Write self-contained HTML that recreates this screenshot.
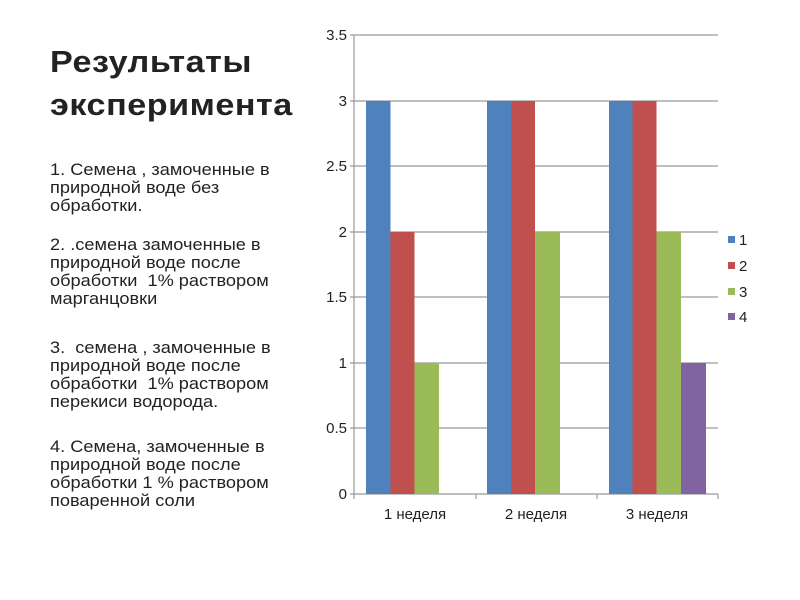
<!DOCTYPE html>
<html><head><meta charset="utf-8"><style>
body{margin:0;width:800px;height:600px;background:#fff;overflow:hidden;position:relative;font-family:"Liberation Sans","DejaVu Sans",sans-serif;color:#222}
.t{position:absolute;left:50px;top:40px;font-weight:bold;font-size:31px;line-height:43px;letter-spacing:0.5px;transform:scaleX(1.1);transform-origin:0 0;white-space:nowrap}
.p{position:absolute;left:50px;font-size:17px;line-height:18px;transform:scaleX(1.07);transform-origin:0 0;white-space:nowrap}
</style></head><body>
<div class="t">Результаты<br>эксперимента</div>
<div class="p" style="top:161px">1. Семена , замоченные в<br>природной воде без<br>обработки.</div>
<div class="p" style="top:236px">2. .семена замоченные в<br>природной воде после<br>обработки&nbsp; 1% раствором<br>марганцовки</div>
<div class="p" style="top:339px">3.&nbsp; семена , замоченные в<br>природной воде после<br>обработки&nbsp; 1% раствором<br>перекиси водорода.</div>
<div class="p" style="top:438px">4. Семена, замоченные в<br>природной воде после<br>обработки 1 % раствором<br>поваренной соли</div>
<svg width="800" height="600" style="position:absolute;left:0;top:0" font-family="Liberation Sans, DejaVu Sans, sans-serif">
<g stroke="#999" stroke-width="1.2">
<line x1="350" y1="35" x2="718" y2="35"/>
<line x1="350" y1="101" x2="718" y2="101"/>
<line x1="350" y1="166" x2="718" y2="166"/>
<line x1="350" y1="232" x2="718" y2="232"/>
<line x1="350" y1="297" x2="718" y2="297"/>
<line x1="350" y1="363" x2="718" y2="363"/>
<line x1="350" y1="428" x2="718" y2="428"/>
<line x1="350" y1="494" x2="718" y2="494"/>
<line x1="354" y1="35" x2="354" y2="494"/>
<line x1="354" y1="494" x2="354" y2="499"/>
<line x1="476" y1="494" x2="476" y2="499"/>
<line x1="597" y1="494" x2="597" y2="499"/>
<line x1="718" y1="494" x2="718" y2="499"/>
</g>
<g>
<rect x="366" y="101" width="24.5" height="393" fill="#4f81bd"/>
<rect x="390.5" y="232" width="24" height="262" fill="#c0504d"/>
<rect x="414.5" y="363" width="24.5" height="131" fill="#9bbb59"/>
<rect x="487" y="101" width="24" height="393" fill="#4f81bd"/>
<rect x="511" y="101" width="24" height="393" fill="#c0504d"/>
<rect x="535" y="232" width="25" height="262" fill="#9bbb59"/>
<rect x="609" y="101" width="23.5" height="393" fill="#4f81bd"/>
<rect x="632.5" y="101" width="24" height="393" fill="#c0504d"/>
<rect x="656.5" y="232" width="24.5" height="262" fill="#9bbb59"/>
<rect x="681" y="363" width="25" height="131" fill="#8064a2"/>
</g>
<g font-size="15" fill="#222" text-anchor="end">
<text x="347" y="40">3.5</text><text x="347" y="106">3</text><text x="347" y="171">2.5</text>
<text x="347" y="237">2</text><text x="347" y="302">1.5</text><text x="347" y="368">1</text>
<text x="347" y="433">0.5</text><text x="347" y="499">0</text>
</g>
<g font-size="15" fill="#222" text-anchor="middle">
<text x="415" y="519">1 неделя</text><text x="536" y="519">2 неделя</text><text x="657" y="519">3 неделя</text>
</g>
<rect x="728" y="236" width="7" height="7" fill="#4f81bd"/>
<rect x="728" y="262" width="7" height="7" fill="#c0504d"/>
<rect x="728" y="288" width="7" height="7" fill="#9bbb59"/>
<rect x="728" y="313" width="7" height="7" fill="#8064a2"/>
<g font-size="15" fill="#222">
<text x="739" y="245">1</text><text x="739" y="271">2</text><text x="739" y="297">3</text><text x="739" y="322">4</text>
</g>
</svg>
</body></html>
